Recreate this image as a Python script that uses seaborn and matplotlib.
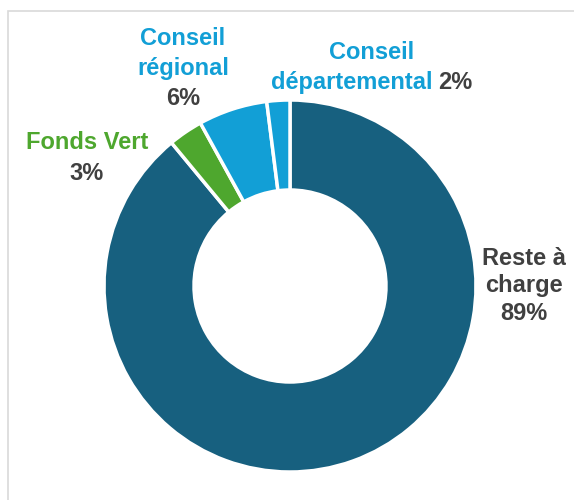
import matplotlib.pyplot as plt
import seaborn as sns
from matplotlib.patches import Rectangle

sns.set_theme(style="white")
plt.rcParams['font.family'] = ['Liberation Sans', 'DejaVu Sans']

labels = ['Reste à charge', 'Fonds Vert', 'Conseil régional', 'Conseil départemental']
shares = [89, 3, 6, 2]
colors = ['#17607F', '#4EA72E', '#129FD6', '#129FD6']

grey = '#404040'
blue = '#129FD6'
green = '#4EA72E'

W, H = 574, 500
fig = plt.figure(figsize=(W / 100, H / 100), dpi=100)
ax = fig.add_axes([0, 0, 1, 1])
ax.set_xlim(0, W)
ax.set_ylim(0, H)
ax.set_aspect('equal')
ax.axis('off')

# light grey frame around the panel
fig.patches.append(Rectangle((8 / W, -0.1), 1.2, 1 - 11 / H + 0.1, transform=fig.transFigure,
                             fill=False, edgecolor='#D9D9D9', linewidth=1.2))

ax.pie(shares, colors=colors, startangle=90, counterclock=False,
       center=(290, H - 286), radius=186,
       wedgeprops=dict(width=90, edgecolor='white', linewidth=2.5))
ax.set_xlim(0, W)
ax.set_ylim(0, H)

fs = 17
kw = dict(fontsize=fs, fontweight='bold', va='baseline')


def line(x, y, s, c, ha='center'):
    ax.text(x, H - y, s, color=c, ha=ha, **kw)


# Reste à charge
line(524, 265, 'Reste à', grey)
line(524, 292, 'charge', grey)
line(524, 320, '89%', grey)

# Fonds Vert
line(87, 149, 'Fonds Vert', green)
line(87, 180, '3%', grey)

# Conseil régional
line(183, 45, 'Conseil', blue)
line(183, 75, 'régional', blue)
line(183, 105, '6%', grey)

# Conseil départemental
line(372, 59, 'Conseil', blue)
line(432, 89, 'départemental', blue, ha='right')
line(438, 89, '2%', grey, ha='left')

fig.savefig('out.png', dpi=100)
